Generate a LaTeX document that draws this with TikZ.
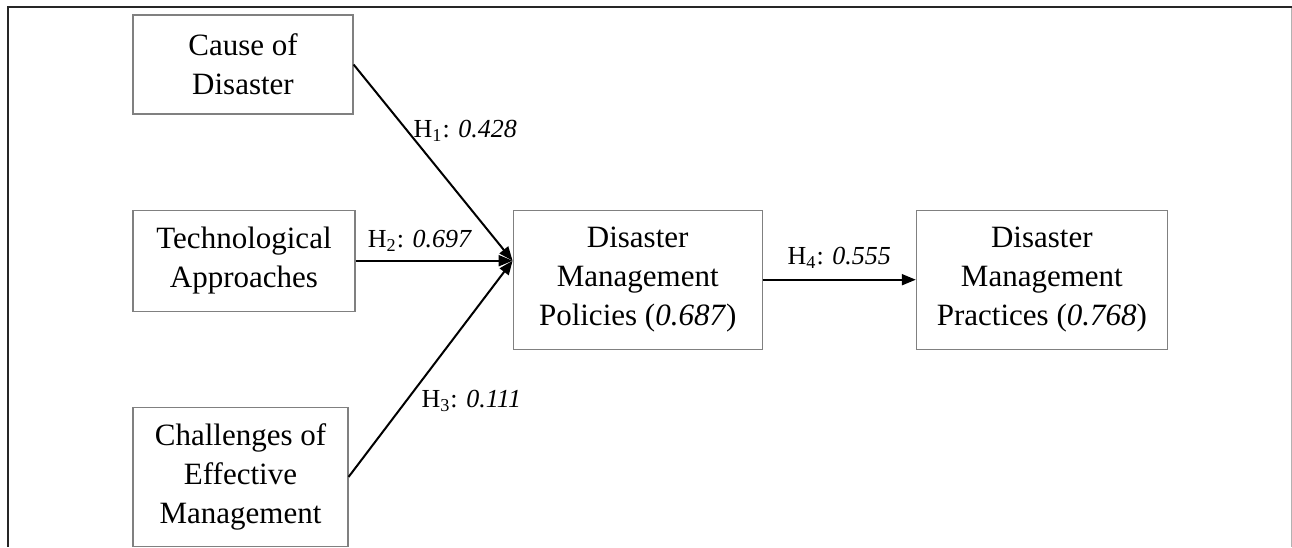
\documentclass[tikz,border=0pt]{standalone}
\usepackage{fontspec}
\setmainfont{Liberation Serif}
\usetikzlibrary{positioning,arrows.meta}
\tikzset{var node/.style={rectangle,draw=black!50,line width=0.6pt,align=center,inner sep=0pt,font=\fontsize{15.5}{19.5}\selectfont},
path arrow/.style={-{Triangle[length=7pt,width=5.5pt]},line width=1pt},
path label/.style={font=\fontsize{13}{15}\selectfont,inner sep=0pt}}

\begin{document}
\begin{tikzpicture}[x=0.5pt,y=-0.5pt]
            \useasboundingbox (0,0) rectangle (1292,547);
            \draw[line width=1.2pt,black!85] (1292,7) -- (8,7) -- (8,547);
            \draw[line width=0.5pt,black!30] (1291,8) -- (1291,547);

            \node[var node,minimum width=110pt,minimum height=49.5pt] (cause) at (243,64.5) {Cause of\\Disaster};
            \node[var node,minimum width=111pt,minimum height=50.5pt] (tech) [below = 47.5pt of cause.south west, anchor=north west] {Technological\\Approaches};
            \node[var node,minimum width=107.5pt,minimum height=69.5pt] (chall) [below = 47.5pt of tech.south west, anchor=north west] {Challenges of\\Effective\\Management};
            \node[var node,minimum width=124.5pt,minimum height=69.5pt] (policies) [right = 78.5pt of tech.north east, anchor=north west] {Disaster\\Management\\Policies (\textit{0.687})};
            \node[var node,minimum width=125.5pt,minimum height=69.5pt] (practices) [right = 76.5pt of policies] {Disaster\\Management\\Practices (\textit{0.768})};
            \coordinate (hub) at (policies.west |- tech.east);

            \path[path arrow]
            (cause.east) edge node[path label,pos=0.34,anchor=west,xshift=2.5pt] {H\textsubscript{1}: \textit{0.428}} (hub)
            (tech.east) edge node[path label,pos=0.41,above=4pt] {H\textsubscript{2}: \textit{0.697}} (hub)
            (chall.east) edge node[path label,pos=0.35,anchor=west,xshift=7.3pt] {H\textsubscript{3}: \textit{0.111}} (hub)
            (policies.east) edge node[path label,pos=0.5,above=5pt] {H\textsubscript{4}: \textit{0.555}} (practices.west);
        \end{tikzpicture}
\end{document}
